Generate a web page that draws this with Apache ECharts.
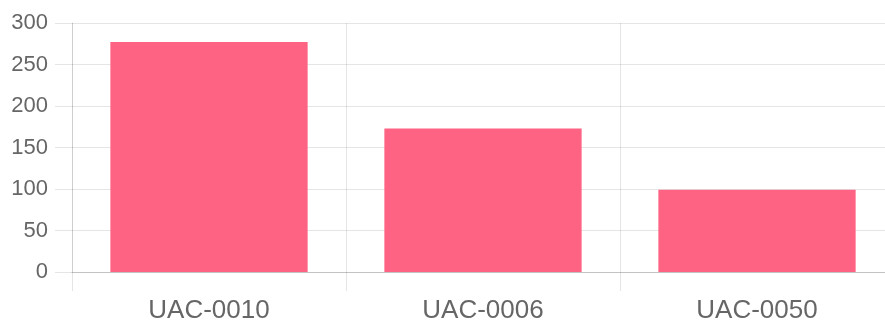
<!DOCTYPE html>
<html>
<head>
<meta charset="utf-8">
<script src="https://cdn.jsdelivr.net/npm/echarts@6/dist/echarts.min.js"></script>
<style>
html,body{margin:0;padding:0;background:#fff;overflow:hidden;width:885px;height:324px;}
#chart{width:894px;height:324px;}
</style>
</head>
<body>
<div id="chart"></div>
<script>
const categories = ['UAC-0010', 'UAC-0006', 'UAC-0050'];
const values = [277, 173, 99];
const yTicks = { min: 0, max: 300, interval: 50 };

const chart = echarts.init(document.getElementById('chart'), null, { renderer: 'canvas' });
const gridColor = 'rgba(0,0,0,0.1)';
chart.setOption({
  animation: false,
  grid: { left: 72, right: 0, top: 23, bottom: 52, containLabel: false },
  xAxis: {
    type: 'category',
    data: categories,
    boundaryGap: true,
    axisLine: { show: true, lineStyle: { color: 'rgba(0,0,0,0.15)', width: 1 } },
    axisTick: { show: true, interval: 0, length: 19, lineStyle: { color: gridColor } },
    splitLine: { show: true, interval: 0, lineStyle: { color: gridColor } },
    axisLabel: { color: '#666', fontSize: 26, fontFamily: 'Liberation Sans, Arial, sans-serif', margin: 26, interval: 0 }
  },
  yAxis: {
    type: 'value',
    min: yTicks.min, max: yTicks.max, interval: yTicks.interval,
    axisLine: { show: true, lineStyle: { color: gridColor } },
    axisTick: { show: true, length: 17, lineStyle: { color: gridColor } },
    splitLine: { show: true, lineStyle: { color: gridColor } },
    axisLabel: { color: '#666', fontSize: 22, fontFamily: 'Liberation Sans, Arial, sans-serif', margin: 24 }
  },
  series: [{
    type: 'bar',
    data: values,
    barCategoryGap: '28%',
    itemStyle: { color: 'rgb(255,99,132)' }
  }]
});
</script>
</body>
</html>
